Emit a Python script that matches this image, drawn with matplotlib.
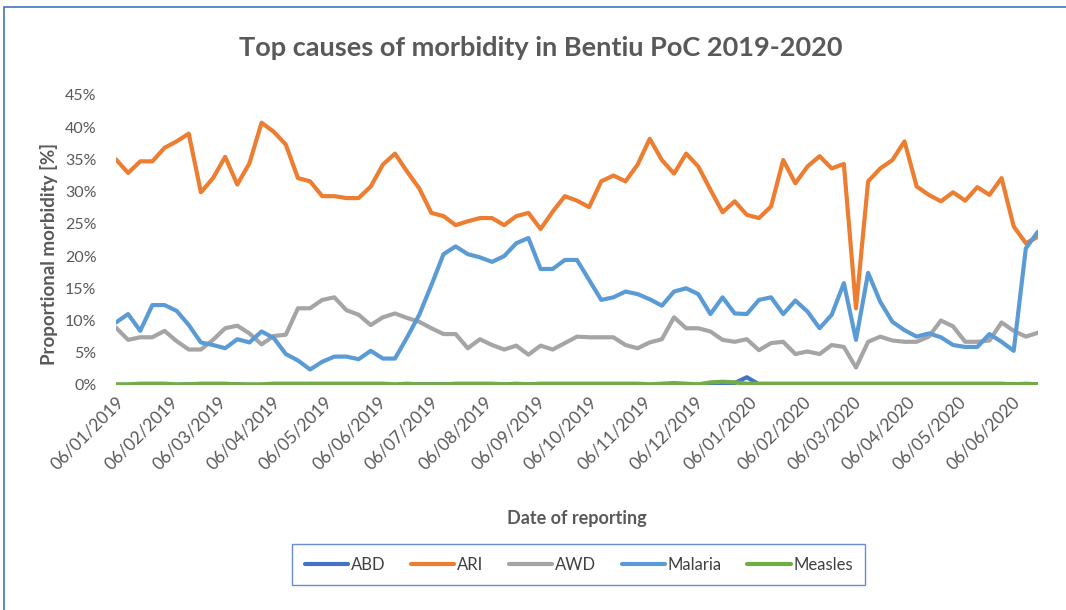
import matplotlib
matplotlib.use("Agg")
import matplotlib.pyplot as plt
import matplotlib.dates as mdates
from matplotlib.patches import Rectangle
import pandas as pd

plt.rcParams['font.family'] = ['Lato', 'DejaVu Sans']

# weekly reporting dates (77 weeks from 06/01/2019)
dates = pd.date_range('2019-01-06', periods=77, freq='7D')

abd = [0.0, 0.0, 0.1, 0.1, 0.0, 0.0, 0.1, 0.0, 0.0, 0.1, 0.1, 0.0, 0.0,
       0.1, 0.1, 0.1, 0.1, 0.1, 0.1, 0.1, 0.1, 0.1, 0.0, 0.0, 0.1, 0.1,
       0.1, 0.1, 0.1, 0.1, 0.0, 0.1, 0.1, 0.1, 0.1, 0.1, 0.1, 0.1, 0.0,
       0.1, 0.1, 0.0, 0.1, 0.1, 0.0, 0.1, 0.0, 0.1, 0.0, 0.0, 0.1, 0.3,
       1.2, 0.1, 0.1, 0.1, 0.1, 0.1, 0.1, 0.1, 0.1, 0.1, 0.1, 0.1, 0.1,
       0.1, 0.1, 0.1, 0.1, 0.1, 0.1, 0.1, 0.1, 0.0, 0.1, 0.1, 0.1]

ari = [35.0, 32.9, 34.7, 34.7, 36.8, 37.8, 39.0, 29.9, 32.1, 35.4, 31.1, 34.4, 40.7,
       39.3, 37.3, 32.1, 31.6, 29.3, 29.3, 29.0, 29.0, 30.8, 34.2, 35.9, 33.1, 30.5,
       26.7, 26.2, 24.8, 25.4, 25.9, 25.9, 24.8, 26.2, 26.7, 24.2, 26.9, 29.3, 28.6,
       27.6, 31.6, 32.5, 31.6, 34.2, 38.2, 34.9, 32.8, 35.9, 33.9, 30.3, 26.8, 28.5,
       26.4, 25.9, 27.7, 34.9, 31.3, 33.9, 35.5, 33.6, 34.3, 11.9, 31.6, 33.6, 34.9,
       37.8, 30.8, 29.5, 28.5, 29.9, 28.6, 30.7, 29.5, 32.1, 24.6, 22.0, 23.0]

awd = [8.9, 7.0, 7.4, 7.4, 8.4, 6.8, 5.5, 5.5, 7.0, 8.8, 9.2, 8.0, 6.3,
       7.6, 7.8, 11.9, 11.9, 13.2, 13.6, 11.6, 10.9, 9.3, 10.5, 11.1, 10.4, 9.8,
       8.8, 7.9, 7.9, 5.7, 7.1, 6.2, 5.5, 6.1, 4.7, 6.1, 5.5, 6.5, 7.5,
       7.4, 7.4, 7.4, 6.2, 5.7, 6.6, 7.1, 10.5, 8.8, 8.8, 8.3, 7.0, 6.7,
       7.1, 5.4, 6.5, 6.7, 4.8, 5.2, 4.8, 6.2, 5.9, 2.7, 6.7, 7.5, 6.9,
       6.7, 6.7, 7.5, 10.0, 9.1, 6.7, 6.7, 6.9, 9.7, 8.4, 7.5, 8.1]

malaria = [9.7, 11.0, 8.4, 12.4, 12.4, 11.5, 9.3, 6.6, 6.2, 5.7, 7.1, 6.6, 8.3,
           7.3, 4.8, 3.8, 2.4, 3.6, 4.4, 4.4, 4.0, 5.3, 4.1, 4.1, 7.4, 10.9,
           15.5, 20.3, 21.5, 20.3, 19.8, 19.1, 20.0, 22.0, 22.8, 18.0, 18.0, 19.4, 19.4,
           16.3, 13.2, 13.6, 14.5, 14.1, 13.3, 12.3, 14.5, 15.0, 14.1, 11.0, 13.6, 11.1,
           11.0, 13.2, 13.6, 11.0, 13.1, 11.4, 8.8, 10.9, 15.8, 7.0, 17.4, 12.9, 9.8,
           8.5, 7.5, 8.0, 7.4, 6.2, 5.9, 5.9, 7.9, 6.7, 5.3, 21.2, 23.8]

measles = [0.1, 0.1, 0.2, 0.2, 0.2, 0.1, 0.1, 0.2, 0.2, 0.2, 0.1, 0.1, 0.1,
           0.2, 0.2, 0.2, 0.2, 0.2, 0.2, 0.2, 0.2, 0.2, 0.2, 0.1, 0.2, 0.1,
           0.1, 0.1, 0.2, 0.2, 0.2, 0.2, 0.1, 0.2, 0.1, 0.2, 0.2, 0.2, 0.2,
           0.2, 0.2, 0.2, 0.2, 0.2, 0.1, 0.2, 0.3, 0.2, 0.1, 0.4, 0.5, 0.4,
           0.2, 0.2, 0.2, 0.2, 0.2, 0.2, 0.2, 0.2, 0.2, 0.2, 0.2, 0.2, 0.2,
           0.2, 0.2, 0.2, 0.2, 0.2, 0.2, 0.2, 0.2, 0.2, 0.1, 0.2, 0.1]

series = [('ABD', abd, '#4472C4'), ('ARI', ari, '#ED7D31'), ('AWD', awd, '#A5A5A5'),
          ('Malaria', malaria, '#5B9BD5'), ('Measles', measles, '#70AD47')]

grey = '#595959'

fig = plt.figure(figsize=(10.66, 6.1), dpi=100)
ax = fig.add_axes([0.1088, 0.3689, 0.8649, 0.4754])

for name, vals, col in series:
    ax.plot(dates, vals, color=col, lw=3.0, label=name, solid_capstyle='round')

ax.set_ylim(0, 45)
ax.set_yticks(range(0, 46, 5))
ax.set_yticklabels([f'{v}%' for v in range(0, 46, 5)])
ax.set_xlim(dates[0], dates[-1])
ax.xaxis.set_major_locator(mdates.MonthLocator(bymonthday=6))
ax.xaxis.set_major_formatter(mdates.DateFormatter('%d/%m/%Y'))
for s in ax.spines.values():
    s.set_visible(False)
ax.tick_params(axis='y', length=0, colors=grey, labelsize=11.5, pad=14)
ax.tick_params(axis='x', length=0, colors=grey, labelsize=12.5, pad=6)
plt.setp(ax.get_xticklabels(), rotation=45, ha='right', rotation_mode='anchor')

ax.set_ylabel('Proportional morbidity [%]', fontsize=13.5, fontweight='bold', color=grey)
ax.yaxis.set_label_coords(-0.063, 0.45)
ax.set_xlabel('Date of reporting', fontsize=13, fontweight='bold', color=grey)
ax.xaxis.set_label_coords(0.5, -0.43)
fig.text(0.507, 0.922, 'Top causes of morbidity in Bentiu PoC 2019-2020', ha='center', va='center',
         fontsize=19.5, fontweight='bold', color=grey)

leg = fig.legend(loc='center', bbox_to_anchor=(0.543, 0.074), ncol=5, frameon=True, fancybox=False,
                 fontsize=12, handlelength=2.6, handletextpad=0.15, columnspacing=1.55,
                 borderpad=0.75)
leg.get_frame().set_edgecolor('#4472C4')
leg.get_frame().set_linewidth(1.0)
for t in leg.get_texts():
    t.set_color('#404040')

# outer chart border
fig.patches.append(Rectangle((0.004, -0.1), 1.2, 1.088, transform=fig.transFigure,
                             fill=False, edgecolor='#4472C4', lw=1.2))

fig.savefig('out.png', dpi=100)
